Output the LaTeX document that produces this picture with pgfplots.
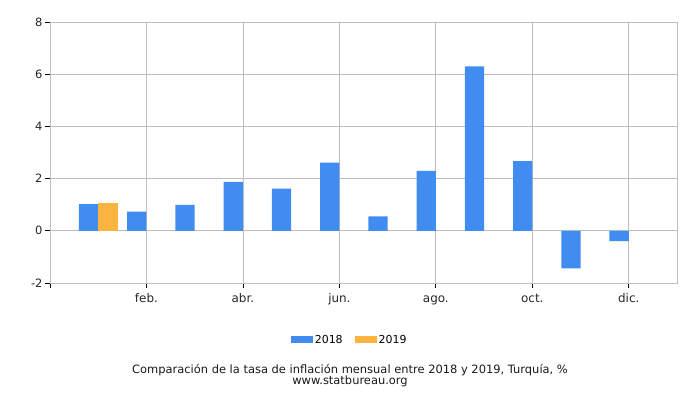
\documentclass[border=0pt]{standalone}
\usepackage{fontspec}
\setmainfont{DejaVu Sans}
\usepackage{pgfplots}
\pgfplotsset{compat=1.18}
\definecolor{c2018}{RGB}{65,140,240}
\definecolor{c2019}{RGB}{252,180,65}
\definecolor{gridc}{RGB}{190,190,190}
\begin{document}
\begin{tikzpicture}[x=1bp,y=1bp]
\path[use as bounding box] (0,0) rectangle (700,400);
\begin{axis}[
  at={(50bp,117bp)}, anchor=south west,
  width=627bp, height=261bp, scale only axis,
  xmin=0, xmax=13, ymin=-2, ymax=8,
  xtick={0,2,4,6,8,10,12},
  xticklabels={,feb.,abr.,jun.,ago.,oct.,dic.},
  ytick={-2,0,2,4,6,8},
  yticklabels={-2,0,2,4,6,8},
  grid=major, major grid style={gridc, line width=0.8bp},
  axis line style={gridc, line width=0.8bp},
  tick style={black, line width=0.8bp},
  tick align=outside, major tick length=5bp,
  xtick pos=bottom, ytick pos=left,
  ticklabel style={font=\fontsize{11.5}{13}\selectfont, text=black!85},
  xticklabel style={font=\fontsize{12}{14}\selectfont, text height=1.6ex, text depth=0.45ex, yshift=-2bp},
  yticklabel style={xshift=1bp},
  ybar=0pt, bar width=0.4,
  legend columns=2,
  legend style={at={(0.478,-0.218)}, anchor=center, draw=none,
    font=\fontsize{11}{13}\selectfont, /tikz/every even column/.append style={column sep=10bp}},
  legend image code/.code={\fill[#1] (0bp,-3.5bp) rectangle (22bp,3.5bp);},
]
\addplot[fill=c2018, draw=none, bar shift=-0.2] coordinates {
(1,1.02) (2,0.73) (3,0.99) (4,1.87) (5,1.62) (6,2.61)
(7,0.55) (8,2.30) (9,6.30) (10,2.67) (11,-1.44) (12,-0.40)};
\addplot[fill=c2019, draw=none, bar shift=0.2] coordinates {(1,1.06)};
\legend{2018,2019}
\end{axis}
\node[font=\fontsize{11.5}{13}\selectfont, text=black!90] at (350,30) {Comparación de la tasa de inflación mensual entre 2018 y 2019, Turquía, \%};
\node[font=\fontsize{11.5}{13}\selectfont, text=black!90] at (350,19) {www.statbureau.org};
\end{tikzpicture}
\end{document}
